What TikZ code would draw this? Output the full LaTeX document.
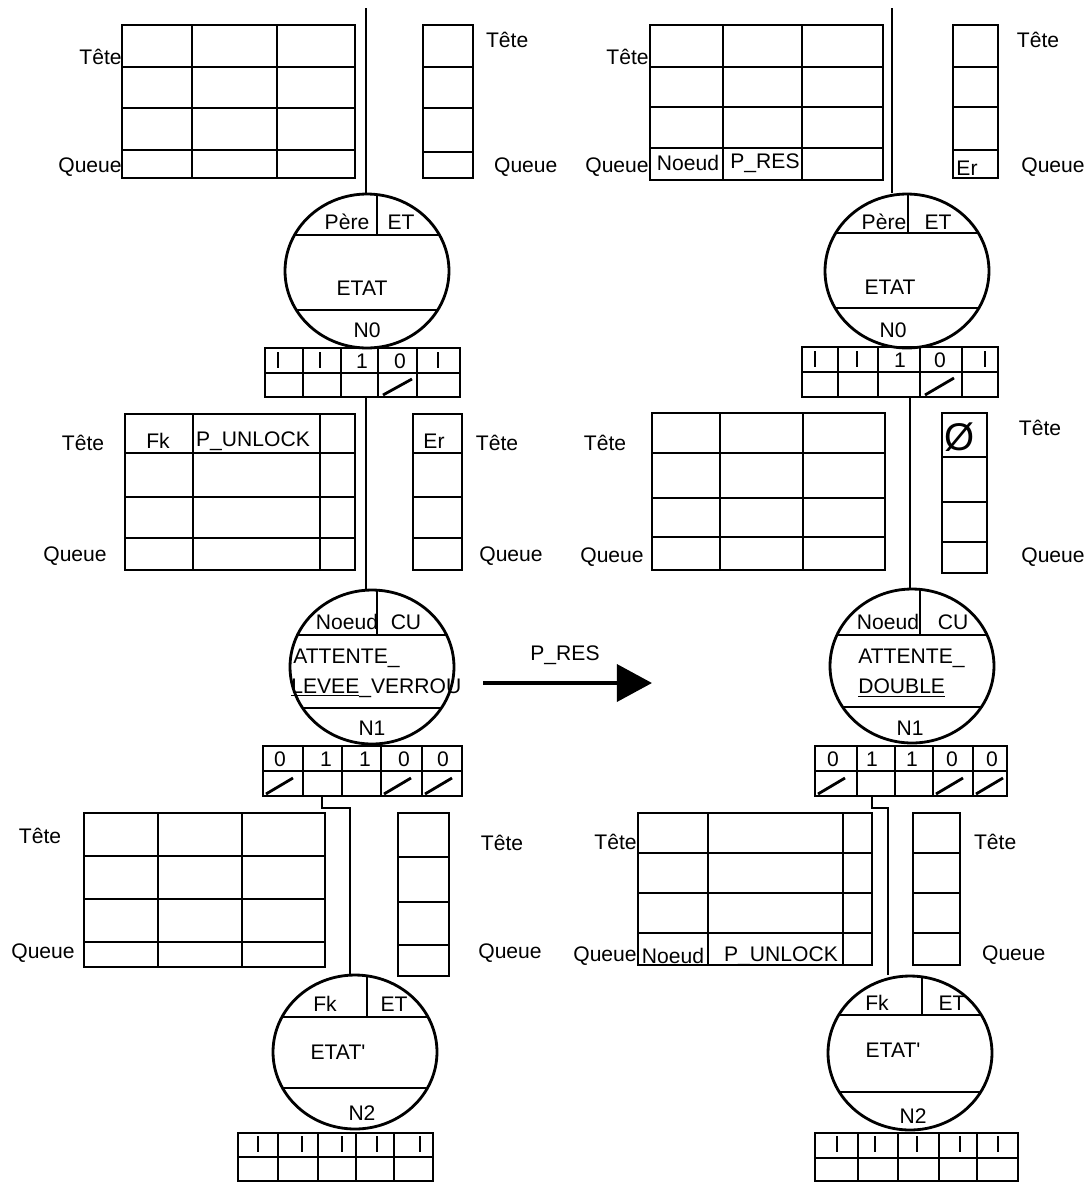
\documentclass[tikz,border=0pt]{standalone}
\usepackage{fontspec}
\setmainfont{Liberation Sans}
\usetikzlibrary{shapes.geometric, arrows.meta, positioning}

% state circle: name, cx, cy, upper chord, lower chord, divider
\newcommand{\etatcircle}[6]{%
  \node[etat] (#1) at (#2,#3) {};
  \begin{scope}
    \clip (#2,#3) ellipse [x radius=82, y radius=77];
    \draw[ln] (#2-100,#4) -- (#2+100,#4);
    \draw[ln] (#2-100,#5) -- (#2+100,#5);
    \draw[ln] (#6,#3-100) -- (#6,#4);
  \end{scope}}

\begin{document}
\begin{tikzpicture}[
  x=0.02cm, y=-0.02cm,
  ln/.style={line width=1.6pt},
  tick/.style={line width=1.1pt},
  etat/.style={ellipse, draw, line width=1.6pt, minimum width=3.28cm,
               minimum height=3.08cm, inner sep=0pt},
  lbl/.style={font=\fontsize{12}{14}\selectfont, inner sep=1pt},
  arr/.style={line width=2.4pt, -{Triangle[length=20pt, width=21pt]}}
]
  \useasboundingbox (0,0) rectangle (1086,1184);

  % left: before
  \draw[ln] (122,25) rectangle (355,178);
  \foreach \y in {67,108,150} \draw[ln] (122,\y) -- (355,\y);
  \foreach \x in {192,277} \draw[ln] (\x,25) -- (\x,178);
  \node[lbl, anchor=east, inner sep=0pt] (tlH) at (122,57) {Tête};
  \node[lbl, anchor=east, inner sep=0pt] (tlQ) at (122,167) {Queue};
  \draw[ln] (423,25) rectangle (473,178);
  \foreach \y in {67,108,152} \draw[ln] (423,\y) -- (473,\y);
  \node[lbl, anchor=west] (tlsH) at (484,40) {Tête};
  \node[lbl, anchor=west] (tlsQ) at (492,167) {Queue};

  \coordinate (topL) at (366,8);
  \etatcircle{n0l}{367}{271}{235}{310}{377}
  \draw[ln] (topL) -- (topL |- n0l.north);
  \node[lbl] (n0lP) at (347,222) {Père};
  \node[lbl] (n0lE) at (401,222) {ET};
  \node[lbl] (n0lS) at (362,288) {ETAT};
  \node[lbl] (n0lN) at (367,330) {N0};

  \draw[ln] (265,348) rectangle (460,397);
  \draw[ln] (265,373) -- (460,373);
  \foreach \x in {303,341,378,417} \draw[ln] (\x,348) -- (\x,397);
  \foreach \x in {278,320,438} \draw[tick] (\x,352) -- (\x,368);
  \node[lbl] (b0l3) at (362,361) {1};
  \node[lbl] (b0l4) at (400,361) {0};
  \draw[ln] (383,395) -- (412,379);

  \draw[ln] (125,414) rectangle (355,570);
  \foreach \y in {453,497,538} \draw[ln] (125,\y) -- (355,\y);
  \foreach \x in {193,320} \draw[ln] (\x,414) -- (\x,570);
  \node[lbl] (mlH) at (83,443) {Tête};
  \node[lbl] (mlQ) at (75,556) {Queue};
  \node[lbl] (mlFk) at (158,441) {Fk};
  \node[lbl] (mlP) at (253,441) {P\_UNLOCK};
  \draw[ln] (413,414) rectangle (462,570);
  \foreach \y in {453,497,538} \draw[ln] (413,\y) -- (462,\y);
  \node[lbl] (mlEr) at (434,441) {Er};
  \node[lbl] (mlsH) at (497,443) {Tête};
  \node[lbl] (mlsQ) at (511,556) {Queue};

  \coordinate (b0l) at (366,397);
  \etatcircle{n1l}{372}{667}{635}{708}{377}
  \draw[ln] (b0l) -- (b0l |- n1l.north);
  \node[lbl] (n1lP) at (347,622) {Noeud};
  \node[lbl] (n1lE) at (406,622) {CU};
  \node[lbl, anchor=west, inner sep=0pt] (n1lS) at (293,658) {ATTENTE\_};
  \node[lbl, anchor=west, inner sep=0pt] (n1lT) at (291,688) {\underline{LEVEE}\_VERROU};
  \node[lbl] (n1lN) at (372,728) {N1};

  \draw[ln] (263,746) rectangle (462,796);
  \draw[ln] (263,771) -- (462,771);
  \foreach \x in {303,342,381,422} \draw[ln] (\x,746) -- (\x,796);
  \foreach \x/\b in {280/0,326/1,365/1,404/0,443/0}
    \node[lbl] (b1l\x) at (\x,759) {\b};
  \foreach \x in {263,381,422} \draw[ln] (\x+3,794) -- (\x+30,778);

  \coordinate (b1l) at (322,796);
  \coordinate (k1l) at (350,808);

  \draw[ln] (84,813) rectangle (325,967);
  \foreach \y in {856,899,942} \draw[ln] (84,\y) -- (325,\y);
  \foreach \x in {158,242} \draw[ln] (\x,813) -- (\x,967);
  \node[lbl] (blH) at (40,836) {Tête};
  \node[lbl] (blQ) at (43,953) {Queue};
  \draw[ln] (398,813) rectangle (449,976);
  \foreach \y in {857,902,945} \draw[ln] (398,\y) -- (449,\y);
  \node[lbl] (blsH) at (502,843) {Tête};
  \node[lbl] (blsQ) at (510,953) {Queue};

  \etatcircle{n2l}{355}{1052}{1017}{1088}{367}
  \draw[ln] (b1l) |- (k1l) -- (k1l |- n2l.north);
  \node[lbl] (n2lP) at (325,1004) {Fk};
  \node[lbl] (n2lE) at (394,1004) {ET};
  \node[lbl] (n2lS) at (338,1052) {ETAT\textquotesingle};
  \node[lbl] (n2lN) at (362,1113) {N2};

  \draw[ln] (238,1133) rectangle (433,1181);
  \draw[ln] (238,1157) -- (433,1157);
  \foreach \x in {278,318,356,394} \draw[ln] (\x,1133) -- (\x,1181);
  \foreach \x in {258,302,342,377,420} \draw[tick] (\x,1136) -- (\x,1152);

  % transition
  \coordinate (arrA) at (483,683);
  \coordinate (arrB) at (652,683);
  \draw[arr] (arrA) -- (arrB);
  \node[lbl] (arrL) at (565,655) {P\_RES};

  % right: after
  \draw[ln] (650,25) rectangle (883,180);
  \foreach \y in {67,107,148} \draw[ln] (650,\y) -- (883,\y);
  \foreach \x in {723,802} \draw[ln] (\x,25) -- (\x,180);
  \node[lbl, anchor=east, inner sep=0pt] (trH) at (649,57) {Tête};
  \node[lbl, anchor=east, inner sep=0pt] (trQ) at (649,167) {Queue};
  \node[lbl] (trN) at (688,163) {Noeud};
  \node[lbl] (trP) at (765,163) {P\_RES};
  \draw[ln] (953,25) rectangle (998,178);
  \foreach \y in {67,107,150} \draw[ln] (953,\y) -- (998,\y);
  \node[lbl] (trEr) at (967,168) {Er};
  \node[lbl] (trsH) at (1038,40) {Tête};
  \node[lbl] (trsQ) at (1053,167) {Queue};

  \coordinate (topR) at (892,8);
  \etatcircle{n0r}{907}{271}{233}{308}{908}
  \draw[ln] (topR) -- (topR |- n0r.north);
  \node[lbl] (n0rP) at (884,222) {Père};
  \node[lbl] (n0rE) at (938,222) {ET};
  \node[lbl] (n0rS) at (890,287) {ETAT};
  \node[lbl] (n0rN) at (893,330) {N0};

  \draw[ln] (802,347) rectangle (998,397);
  \draw[ln] (802,372) -- (998,372);
  \foreach \x in {838,878,920,962} \draw[ln] (\x,347) -- (\x,397);
  \foreach \x in {815,857,985} \draw[tick] (\x,351) -- (\x,367);
  \node[lbl] (b0r3) at (900,360) {1};
  \node[lbl] (b0r4) at (940,360) {0};
  \draw[ln] (925,395) -- (954,378);

  \draw[ln] (652,413) rectangle (885,570);
  \foreach \y in {453,498,537} \draw[ln] (652,\y) -- (885,\y);
  \foreach \x in {720,803} \draw[ln] (\x,413) -- (\x,570);
  \node[lbl] (mrH) at (605,443) {Tête};
  \node[lbl] (mrQ) at (612,557) {Queue};
  \draw[ln] (942,413) rectangle (987,573);
  \foreach \y in {457,502,542} \draw[ln] (942,\y) -- (987,\y);
  \node[font=\fontsize{22}{24}\selectfont, inner sep=0pt] (mrO) at (960,437) {Ø};
  \node[lbl] (mrsH) at (1040,428) {Tête};
  \node[lbl] (mrsQ) at (1053,557) {Queue};

  \coordinate (b0r) at (910,397);
  \etatcircle{n1r}{912}{666}{635}{707}{920}
  \draw[ln] (b0r) -- (b0r |- n1r.north);
  \node[lbl] (n1rP) at (888,622) {Noeud};
  \node[lbl] (n1rE) at (953,622) {CU};
  \node[lbl, anchor=west, inner sep=0pt] (n1rS) at (858,658) {ATTENTE\_};
  \node[lbl, anchor=west, inner sep=0pt] (n1rT) at (858,688) {\underline{DOUBLE}};
  \node[lbl] (n1rN) at (910,728) {N1};

  \draw[ln] (815,746) rectangle (1007,796);
  \draw[ln] (815,771) -- (1007,771);
  \foreach \x in {857,895,933,973} \draw[ln] (\x,746) -- (\x,796);
  \foreach \x/\b in {833/0,872/1,912/1,952/0,992/0}
    \node[lbl] (b1r\x) at (\x,759) {\b};
  \foreach \x in {815,933,973} \draw[ln] (\x+3,794) -- (\x+30,778);

  \coordinate (b1r) at (872,796);
  \coordinate (k1r) at (888,808);

  \draw[ln] (638,813) rectangle (872,965);
  \foreach \y in {853,893,933} \draw[ln] (638,\y) -- (872,\y);
  \foreach \x in {708,843} \draw[ln] (\x,813) -- (\x,965);
  \node[lbl, anchor=east, inner sep=0pt] (brH) at (637,842) {Tête};
  \node[lbl, anchor=east, inner sep=0pt] (brQ) at (637,956) {Queue};
  \node[lbl] (brN) at (673,956) {Noeud};
  \node[lbl] (brP) at (781,956) {P\_UNLOCK};
  \draw[ln] (913,813) rectangle (960,965);
  \foreach \y in {853,893,933} \draw[ln] (913,\y) -- (960,\y);
  \node[lbl, anchor=west] (brsH) at (972,842) {Tête};
  \node[lbl, anchor=west] (brsQ) at (980,955) {Queue};

  \etatcircle{n2r}{910}{1053}{1015}{1092}{922}
  \draw[ln] (b1r) |- (k1r) -- (k1r |- n2r.north);
  \node[lbl] (n2rP) at (877,1003) {Fk};
  \node[lbl] (n2rE) at (952,1003) {ET};
  \node[lbl] (n2rS) at (893,1050) {ETAT\textquotesingle};
  \node[lbl] (n2rN) at (913,1116) {N2};

  \draw[ln] (815,1133) rectangle (1018,1181);
  \draw[ln] (815,1158) -- (1018,1158);
  \foreach \x in {858,898,939,977} \draw[ln] (\x,1133) -- (\x,1181);
  \foreach \x in {837,875,917,960,998} \draw[tick] (\x,1136) -- (\x,1152);
\end{tikzpicture}
\end{document}
